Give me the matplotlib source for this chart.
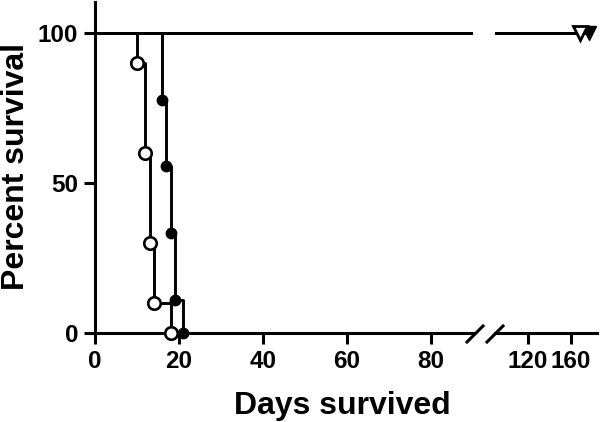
import matplotlib
matplotlib.use('Agg')
import matplotlib.pyplot as plt
import numpy as np

plt.rcParams['font.family'] = ['Liberation Sans', 'DejaVu Sans']
plt.rcParams['font.weight'] = 'bold'

# survival data (Kaplan-Meier steps)
days_open = [0, 10, 12, 13, 14, 18]
surv_open = [100, 90, 60, 30, 10, 0]
days_fill = [0, 16, 17, 18, 19, 21]
surv_fill = [100, 77.8, 55.6, 33.3, 11.1, 0]
days_tri_open = [0, 168]
surv_tri_open = [100, 100]
days_tri_fill = [0, 177]
surv_tri_fill = [100, 100]

left_ticks = [0, 20, 40, 60, 80]
right_ticks = [120, 160]
y_ticks = [0, 50, 100]

W, H = 600, 422
fig = plt.figure(figsize=(6, 4.22), dpi=100)
bottom = 1 - 333 / H
height = (333 - 2) / H
ax1 = fig.add_axes([95 / W, bottom, (473 - 95) / W, height])
ax2 = fig.add_axes([495 / W, bottom, (597 - 495) / W, height])

lw = 2.1
for ax in (ax1, ax2):
    ax.step(days_tri_fill, surv_tri_fill, where='post', color='k', lw=lw)
    ax.step(days_tri_open, surv_tri_open, where='post', color='k', lw=lw)
    ax.set_ylim(0, 110.3)
    for s in ('top', 'right'):
        ax.spines[s].set_visible(False)
    ax.spines['bottom'].set_linewidth(2.2)
    ax.spines['left'].set_linewidth(2.2)
    ax.tick_params(width=2.2, length=8, labelsize=17.5, direction='out', pad=4)

ax1.step(days_open, surv_open, where='post', color='k', lw=lw)
ax1.step(days_fill, surv_fill, where='post', color='k', lw=lw)
ax1.plot(days_open[1:], surv_open[1:], 'o', ms=9, mfc='white', mec='k', mew=1.9, clip_on=False, zorder=5)
ax1.plot(days_fill[1:], surv_fill[1:], 'o', ms=7.5, mfc='k', mec='k', clip_on=False, zorder=5)

ax2.plot(days_tri_fill[1:], surv_tri_fill[1:], 'v', ms=9.5, mfc='k', mec='k', clip_on=False, zorder=6)
ax2.plot(days_tri_open[1:], surv_tri_open[1:], 'v', ms=9.5, mfc='white', mec='k', mew=2, clip_on=False, zorder=7)

ax1.set_xlim(0, 90)
ax1.set_xticks(left_ticks)
ax1.set_yticks(y_ticks)
ax2.set_xlim(90, 184)
ax2.set_xticks(right_ticks)
ax2.spines['left'].set_visible(False)
ax2.set_yticks([])
for ax in (ax1, ax2):
    for lab in ax.get_xticklabels() + ax.get_yticklabels():
        lab.set_fontweight('bold')

fig.text(16 / W, 1 - 166 / H, 'Percent survival', fontsize=23, fontweight='bold',
         ha='center', va='center', rotation=90)
fig.text(342 / W, 1 - 406 / H, 'Days survived', fontsize=23, fontweight='bold',
         ha='center', va='center')

# axis break marks
for x0 in (467, 487):
    fig.add_artist(plt.Line2D([x0 / W, (x0 + 16) / W], [1 - 342 / H, 1 - 326 / H],
                              color='k', lw=2.2, transform=fig.transFigure))

fig.savefig('out.png', dpi=100)
